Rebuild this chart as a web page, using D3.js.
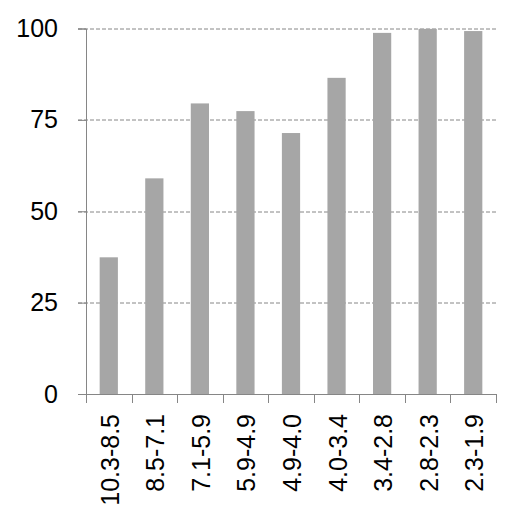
<!DOCTYPE html>
<html>
<head>
<meta charset="utf-8">
<script src="https://cdn.jsdelivr.net/npm/d3@7"></script>
<style>
	body { margin: 0; background: #fff; }
	text { font-family: "Liberation Sans", Arial, sans-serif; fill: #000; }
</style>
</head>
<body>
<div id="chart"></div>
<script>
// Categories and values
var categories = ["10.3-8.5", "8.5-7.1", "7.1-5.9", "5.9-4.9", "4.9-4.0", "4.0-3.4", "3.4-2.8", "2.8-2.3", "2.3-1.9"];
var values = [37.4, 59.0, 79.5, 77.4, 71.4, 86.5, 98.8, 99.9, 99.3];
var yTicks = [0, 25, 50, 75, 100];

var svgW = 526, svgH = 526;
var margin = { left: 86, top: 28.5, right: 30, bottom: 132 };
var width = 496 - margin.left,
	height = 394 - margin.top;

var svg = d3.select("#chart")
	.append("svg")
	.attr("width", svgW)
	.attr("height", svgH)
	.append("g")
	.attr("transform", "translate(" + margin.left + "," + margin.top + ")");

var x = d3.scaleBand()
	.domain(categories)
	.range([0, width])
	.paddingInner(0.6)
	.paddingOuter(0.3);

var y = d3.scaleLinear()
	.domain([0, 100])
	.range([height, 0]);

// Dashed gridlines
svg.selectAll(".grid")
	.data(yTicks.filter(function(d) { return d > 0; }))
	.enter().append("line")
	.attr("x1", -8)
	.attr("x2", width)
	.attr("y1", function(d) { return Math.round(y(d)) + 0.5; })
	.attr("y2", function(d) { return Math.round(y(d)) + 0.5; })
	.attr("stroke", "#868686")
	.attr("stroke-width", 1)
	.attr("stroke-dasharray", "4,2");

// Bars
svg.selectAll(".bar")
	.data(values)
	.enter().append("rect")
	.attr("x", function(d, i) { return x(categories[i]); })
	.attr("width", x.bandwidth())
	.attr("y", function(d) { return y(d); })
	.attr("height", function(d) { return height - y(d); })
	.attr("fill", "#a6a6a6");

// Y axis
var yAxis = svg.append("g")
	.call(d3.axisLeft(y).tickValues(yTicks).tickSize(8).tickPadding(20));
yAxis.select(".domain").attr("stroke", "#868686");
yAxis.selectAll(".tick line").attr("stroke", "#868686");
yAxis.selectAll(".tick text")
	.attr("font-size", 25)
	.attr("fill", "#000");

// X axis with ticks between categories
var xAxisG = svg.append("g")
	.attr("transform", "translate(0," + height + ")");
xAxisG.append("line")
	.attr("x1", -8).attr("x2", width)
	.attr("y1", 0.5).attr("y2", 0.5)
	.attr("stroke", "#868686");
var step = width / categories.length;
xAxisG.selectAll(".xtick")
	.data(d3.range(categories.length + 1))
	.enter().append("line")
	.attr("x1", function(d) { return Math.round(d * step) + 0.5; })
	.attr("x2", function(d) { return Math.round(d * step) + 0.5; })
	.attr("y1", 0)
	.attr("y2", 9)
	.attr("stroke", "#868686");

xAxisG.selectAll(".xlabel")
	.data(categories)
	.enter().append("text")
	.attr("transform", function(d) {
		return "translate(" + (x(d) + x.bandwidth() / 2 + 10) + ",20) rotate(-90)";
	})
	.attr("text-anchor", "end")
	.attr("font-size", 25)
	.text(function(d) { return d; });
</script>
</body>
</html>
